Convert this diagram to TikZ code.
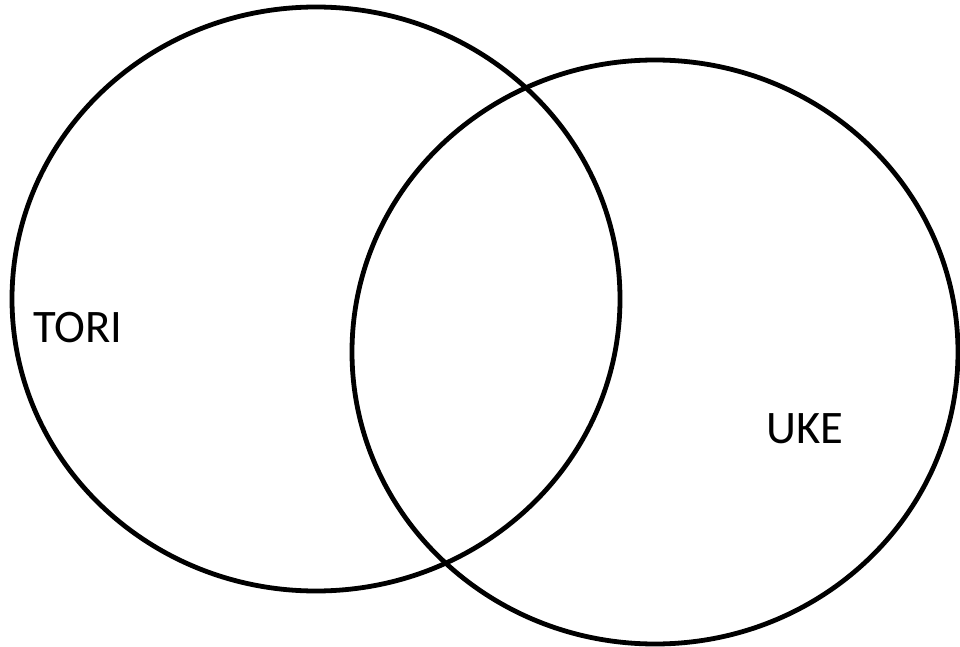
\documentclass[tikz,border=0pt]{standalone}
\usepackage{fontspec}
\setmainfont{Carlito}
\usetikzlibrary{positioning}

\begin{document}
\begin{tikzpicture}[x=0.5pt,y=-0.5pt,
    ring/.style={line width=2.4pt,black},
    setlabel/.style={inner sep=0pt,font=\fontsize{23.3}{28}\selectfont}]
  \useasboundingbox (0,0) rectangle (960,647);
  \draw[ring] (316,299) ellipse [x radius=152pt,y radius=146pt];
  \draw[ring] (655,352) ellipse [x radius=151.5pt,y radius=146pt];
  \node[setlabel] (tori) at (78,328) {TORI};
  \node[setlabel] (uke) at (805,428.5) {UKE};
\end{tikzpicture}
\end{document}
